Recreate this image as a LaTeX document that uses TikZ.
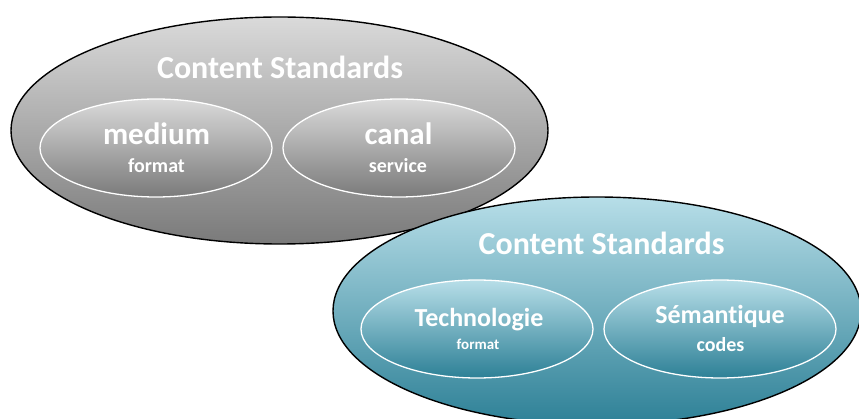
\documentclass[tikz,border=0pt]{standalone}
\usepackage{xcolor}
\usepackage{fontspec}
\setmainfont{Carlito}[Ligatures=NoCommon]
\usetikzlibrary{shapes.geometric}
\usetikzlibrary{positioning}

\definecolor{greyTop}{RGB}{218,218,218}
\definecolor{greyBot}{RGB}{122,122,122}
\definecolor{blueTop}{RGB}{183,222,232}
\definecolor{blueBot}{RGB}{45,128,150}

\begin{document}
\begin{tikzpicture}[x=1pt, y=-1pt]
\tikzset{OuterStyle/.style = {shape=ellipse, draw=black, line width=1.4pt, inner sep=0pt, minimum width=#1}}
\tikzset{InnerStyle/.style = {shape=ellipse, draw=white, line width=1.3pt, inner sep=0pt, minimum width=232pt, minimum height=98pt}}
\tikzset{LabelStyle/.style = {text=white, anchor=base, inner sep=0pt, font={\bfseries\fontsize{#1}{#1}\selectfont}}}
\useasboundingbox (0,0) rectangle (859,419);
	% grey group
	\node[OuterStyle=537pt, minimum height=227pt, top color=greyTop, bottom color=greyBot] (grey) at (279.5,130.5) {};
	\node[InnerStyle, top color=greyTop, bottom color=greyBot] (medium) at (156,148) {};
	\node[InnerStyle, top color=greyTop, bottom color=greyBot] (canal) at (399,148) {};
	\node[LabelStyle=32] (greyTitle) at (280,79) {Content Standards};
	\node[LabelStyle=31] (mediumName) at (156.5,145) {medium};
	\node[LabelStyle=20] (mediumSub) at (156.5,173) {format};
	\node[LabelStyle=31] (canalName) at (398.5,145) {canal};
	\node[LabelStyle=20] (canalSub) at (398,173) {service};
	% blue group
	\node[OuterStyle=528pt, minimum height=228pt, top color=blueTop, bottom color=blueBot] (blue) at (597,311) {};
	\node[InnerStyle, top color=blueTop, bottom color=blueBot] (techno) at (477,329) {};
	\node[InnerStyle, top color=blueTop, bottom color=blueBot] (semant) at (720,329) {};
	\node[LabelStyle=32] (blueTitle) at (601.5,255) {Content Standards};
	\node[LabelStyle=26] (technoName) at (479,327) {Technologie};
	\node[LabelStyle=15] (technoSub) at (478,349) {format};
	\node[LabelStyle=26] (semantName) at (720,324) {Sémantique};
	\node[LabelStyle=20] (semantSub) at (720.5,352) {codes};
\end{tikzpicture}
\end{document}
